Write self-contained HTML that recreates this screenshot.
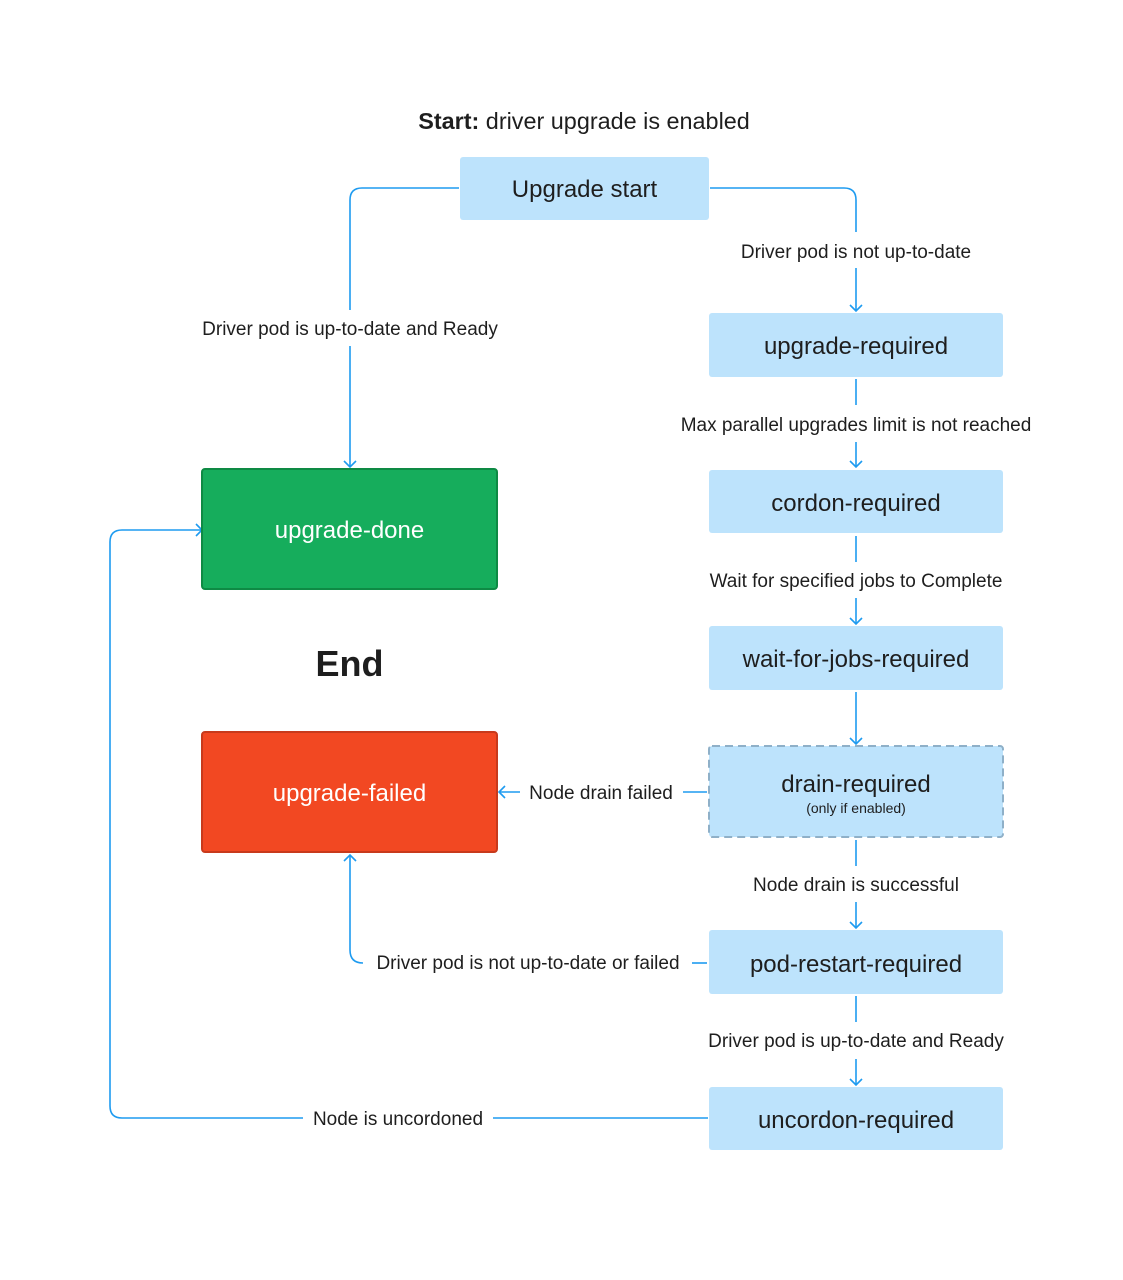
<!DOCTYPE html>
<html><head><meta charset="utf-8"><style>
html,body{margin:0;padding:0;background:#fff}
svg{display:block}
text{font-family:"Liberation Sans",sans-serif;fill:#1e1e1e}
</style></head><body>
<svg width="1123" height="1280" viewBox="0 0 1123 1280" xmlns="http://www.w3.org/2000/svg">
<defs>
<marker id="a" markerWidth="14" markerHeight="14" refX="7" refY="7" orient="auto" markerUnits="userSpaceOnUse">
<path d="M1,1 L7,7 L1,13" fill="none" stroke="#1e9bf0" stroke-width="1.6"/>
</marker>
</defs>
<g fill="none" stroke="#1e9bf0" stroke-width="1.6">
<path d="M459,188 H362 Q350,188 350,200 V310"/>
<path d="M350,346 V467" marker-end="url(#a)"/>
<path d="M710,188 H844 Q856,188 856,200 V232"/>
<path d="M856,268 V311" marker-end="url(#a)"/>
<path d="M856,379 V405"/><path d="M856,442 V467" marker-end="url(#a)"/>
<path d="M856,536 V562"/><path d="M856,598 V624" marker-end="url(#a)"/>
<path d="M856,692 V744" marker-end="url(#a)"/>
<path d="M856,840 V866"/><path d="M856,902 V928" marker-end="url(#a)"/>
<path d="M856,996 V1022"/><path d="M856,1059 V1085" marker-end="url(#a)"/>
<path d="M707,792 H683"/><path d="M520,792 H499" marker-end="url(#a)"/>
<path d="M707,963 H692"/><path d="M363,963 Q350,963 350,950 V855" marker-end="url(#a)"/>
<path d="M708,1118 H493"/><path d="M303,1118 H122 Q110,1118 110,1106 V542 Q110,530 122,530 H202" marker-end="url(#a)"/>
</g>
<text x="584" y="129" font-size="23.4" text-anchor="middle"><tspan font-weight="bold">Start:</tspan> driver upgrade is enabled</text>
<rect x="460" y="157" width="249" height="63" rx="3" fill="#bde3fc"/>
<text x="584.5" y="197" font-size="24" text-anchor="middle">Upgrade start</text>
<g font-size="24" text-anchor="middle">
<rect x="709" y="313" width="294" height="64" rx="3" fill="#bde3fc"/><text x="856" y="354">upgrade-required</text>
<rect x="709" y="470" width="294" height="63" rx="3" fill="#bde3fc"/><text x="856" y="511">cordon-required</text>
<rect x="709" y="626" width="294" height="64" rx="3" fill="#bde3fc"/><text x="856" y="667">wait-for-jobs-required</text>
<rect x="709" y="746" width="294" height="91" rx="3" fill="#bde3fc" stroke="#8fb0c8" stroke-width="2" stroke-dasharray="8,5"/><text x="856" y="792">drain-required</text>
<rect x="709" y="930" width="294" height="64" rx="3" fill="#bde3fc"/><text x="856" y="972">pod-restart-required</text>
<rect x="709" y="1087" width="294" height="63" rx="3" fill="#bde3fc"/><text x="856" y="1128">uncordon-required</text>
<rect x="202" y="469" width="295" height="120" rx="3" fill="#16ad5c" stroke="#0e8a44" stroke-width="2"/><text x="349.5" y="538" style="fill:#fff">upgrade-done</text>
<rect x="202" y="732" width="295" height="120" rx="3" fill="#f24822" stroke="#c83a1c" stroke-width="2"/><text x="349.5" y="801" style="fill:#fff">upgrade-failed</text>
</g>
<text x="856" y="813" font-size="14" text-anchor="middle">(only if enabled)</text>
<text x="349.5" y="676" font-size="36" font-weight="bold" text-anchor="middle">End</text>
<g font-size="19" text-anchor="middle">
<text x="350" y="335">Driver pod is up-to-date and Ready</text>
<text x="856" y="258">Driver pod is not up-to-date</text>
<text x="856" y="431">Max parallel upgrades limit is not reached</text>
<text x="856" y="587">Wait for specified jobs to Complete</text>
<text x="601" y="799">Node drain failed</text>
<text x="856" y="891">Node drain is successful</text>
<text x="528" y="969">Driver pod is not up-to-date or failed</text>
<text x="856" y="1047">Driver pod is up-to-date and Ready</text>
<text x="398" y="1125">Node is uncordoned</text>
</g>
</svg>
</body></html>
